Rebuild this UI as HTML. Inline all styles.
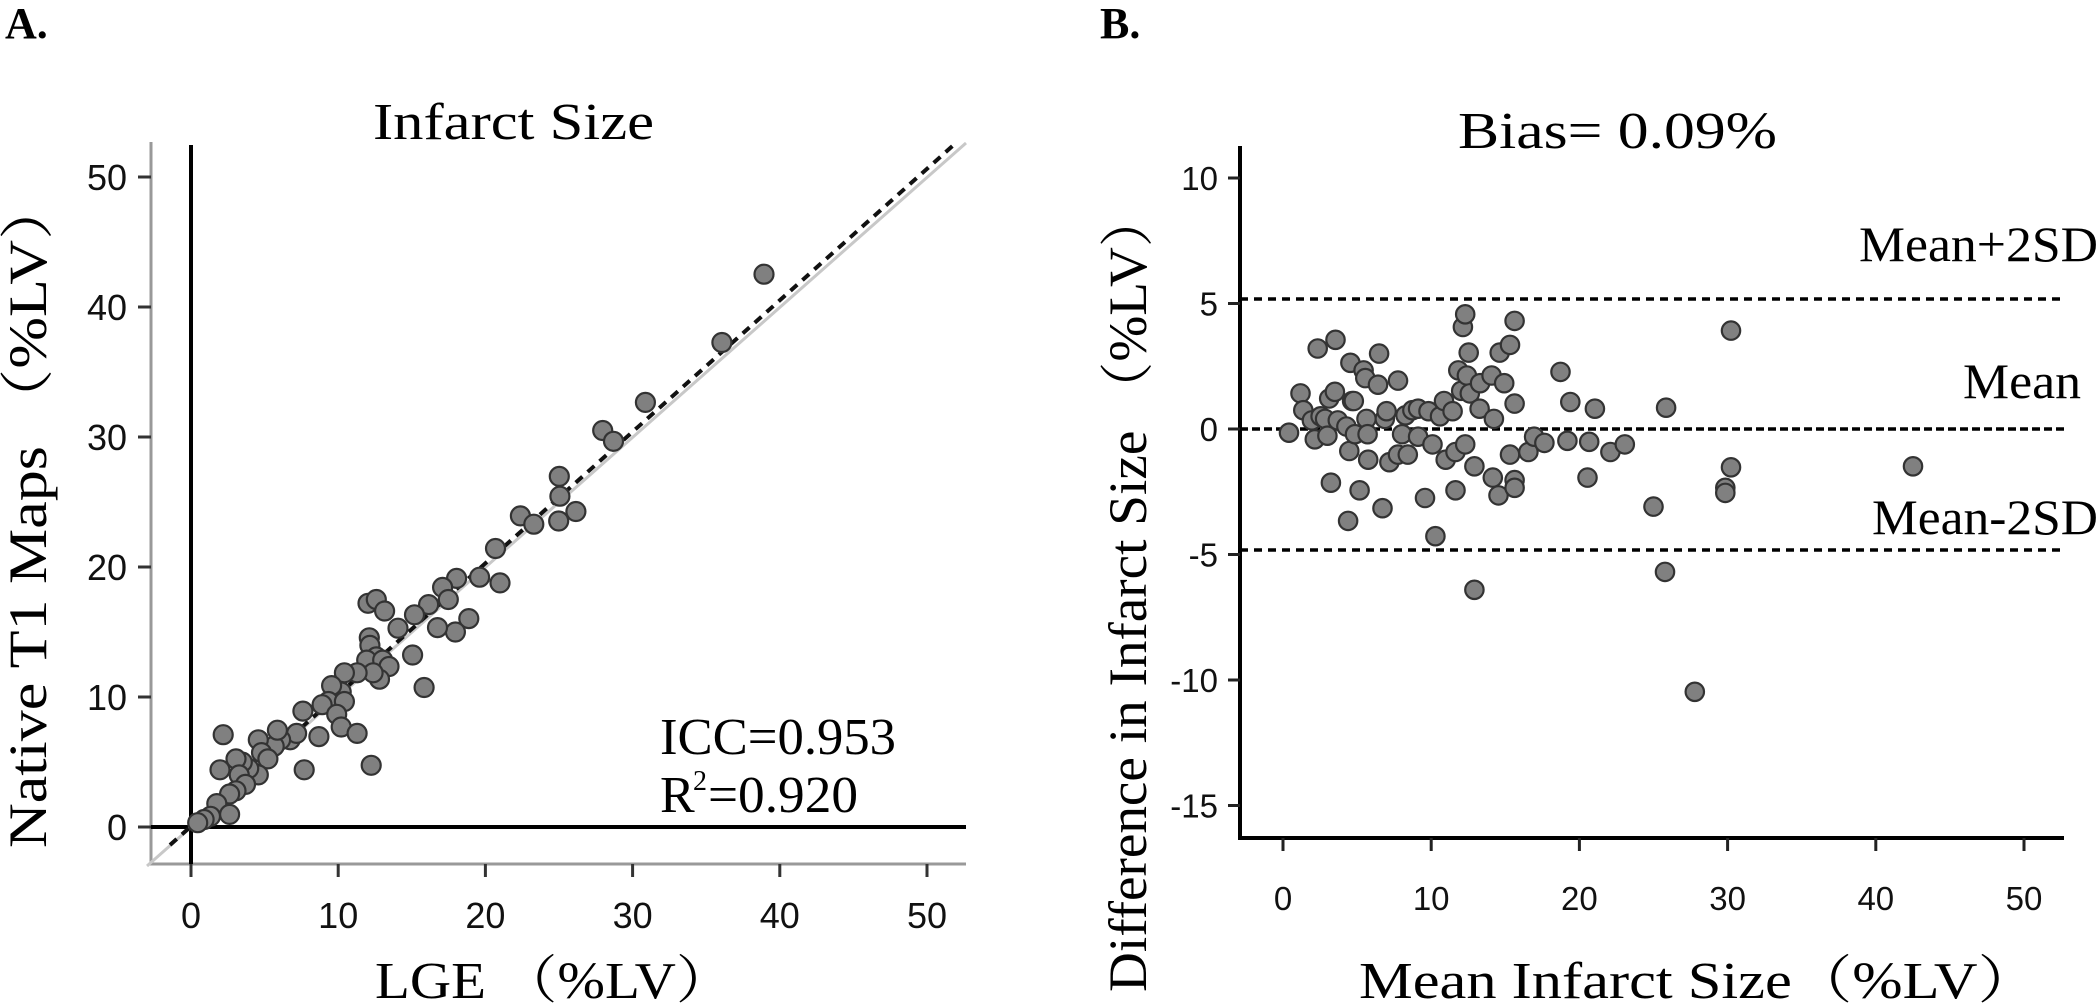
<!DOCTYPE html>
<html><head><meta charset="utf-8"><style>
html,body{margin:0;padding:0;background:#fff;}
svg{display:block;}
.serif{font-family:"Liberation Serif","Noto Serif CJK SC",serif;}
.sans{font-family:"Liberation Sans",sans-serif;}
</style></head><body>
<svg id="s" width="2100" height="1008" viewBox="0 0 2100 1008" xmlns="http://www.w3.org/2000/svg">
<rect width="2100" height="1008" fill="#fff"/>
<text class="serif" x="5" y="38" font-size="44" font-weight="bold">A.</text>
<text class="serif" x="1100" y="38" font-size="44" font-weight="bold">B.</text>

<!-- Panel A -->
<text class="serif" x="373" y="139" font-size="52" textLength="281" lengthAdjust="spacingAndGlyphs">Infarct Size</text>
<line x1="151" y1="142" x2="151" y2="865" stroke="#999" stroke-width="3"/>
<line x1="150" y1="864" x2="966" y2="864" stroke="#999" stroke-width="3"/>
<line x1="191" y1="145" x2="191" y2="864" stroke="#000" stroke-width="4"/>
<line x1="151" y1="827" x2="966" y2="827" stroke="#000" stroke-width="4"/>
<g id="aticks" stroke="#333" stroke-width="3"></g>
<g id="alabels" class="sans" font-size="36" fill="#111"></g>
<line x1="147" y1="866" x2="966" y2="143" stroke="#c8c8c8" stroke-width="3"/>
<line x1="170" y1="845" x2="957" y2="142" stroke="#111" stroke-width="4" stroke-dasharray="9,7"/>
<g id="apts" fill="#808080" stroke="#333" stroke-width="2.2"></g>
<text class="serif" x="660" y="754" font-size="52" textLength="236" lengthAdjust="spacingAndGlyphs">ICC=0.953</text>
<text class="serif" x="660" y="812" font-size="52">R</text>
<text class="serif" x="693" y="790" font-size="28">2</text>
<text class="serif" x="708" y="812" font-size="52" textLength="150" lengthAdjust="spacingAndGlyphs">=0.920</text>
<text class="serif" x="375" y="998" font-size="52" textLength="358" lengthAdjust="spacingAndGlyphs">LGE （%LV）</text>
<text class="serif" font-size="54" transform="translate(46,848) rotate(-90)" textLength="670" lengthAdjust="spacingAndGlyphs">Native  T1 Maps （%LV）</text>

<!-- Panel B -->
<text class="serif" x="1458" y="148" font-size="52" textLength="319" lengthAdjust="spacingAndGlyphs">Bias= 0.09%</text>
<line x1="1240" y1="146" x2="1240" y2="840" stroke="#000" stroke-width="4"/>
<line x1="1238" y1="838" x2="2064" y2="838" stroke="#000" stroke-width="4"/>
<g id="bticks" stroke="#222" stroke-width="3"></g>
<g id="blabels" class="sans" font-size="33" fill="#111"></g>
<line x1="1240" y1="299" x2="2064" y2="299" stroke="#000" stroke-width="3.5" stroke-dasharray="8,6"/>
<line x1="1240" y1="429" x2="2064" y2="429" stroke="#000" stroke-width="3.5" stroke-dasharray="8,4"/>
<line x1="1240" y1="550" x2="2064" y2="550" stroke="#000" stroke-width="3.5" stroke-dasharray="8,6"/>
<g id="bpts" fill="#808080" stroke="#333" stroke-width="2.2"></g>
<text class="serif" x="1859" y="261" font-size="50" textLength="239" lengthAdjust="spacingAndGlyphs">Mean+2SD</text>
<text class="serif" x="1963" y="398" font-size="50" textLength="118" lengthAdjust="spacingAndGlyphs">Mean</text>
<text class="serif" x="1872" y="534" font-size="50" textLength="226" lengthAdjust="spacingAndGlyphs">Mean-2SD</text>
<text class="serif" x="1359" y="998" font-size="52" textLength="679" lengthAdjust="spacingAndGlyphs">Mean Infarct Size（%LV）</text>
<text class="serif" font-size="54" transform="translate(1146,992) rotate(-90)" textLength="800" lengthAdjust="spacingAndGlyphs">Difference in Infarct Size （%LV）</text>
</svg>
<script>
var NS="http://www.w3.org/2000/svg";
function el(p,t,a,txt){var e=document.createElementNS(NS,t);for(var k in a)e.setAttribute(k,a[k]);if(txt!==undefined)e.textContent=txt;document.getElementById(p).appendChild(e);}
for(var i=0;i<=5;i++){var y=827-i*13.0*10;el("aticks","line",{x1:138,y1:y,x2:151,y2:y});el("alabels","text",{x:127,y:y+13,"text-anchor":"end"},String(i*10));
var x=191+i*147.2;el("aticks","line",{x1:x,y1:864,x2:x,y2:877});el("alabels","text",{x:x,y:928,"text-anchor":"middle"},String(i*10));}
var yv=[10,5,0,-5,-10,-15];
for(var j=0;j<yv.length;j++){var y=429-yv[j]*25.1;el("bticks","line",{x1:1228,y1:y,x2:1240,y2:y});el("blabels","text",{x:1218,y:y+12,"text-anchor":"end"},String(yv[j]));}
for(var i=0;i<=5;i++){var x=1283+i*148.2;el("bticks","line",{x1:x,y1:838,x2:x,y2:851});el("blabels","text",{x:x,y:910,"text-anchor":"middle"},String(i*10));}
var A=[[1198,430],[1132,537],[1012,631],[945,675],[962,692],[877,747],[878,778],[876,817],[903,802],[816,809],[837,822],[777,860],[784,914],[752,905],[716,907],[694,921],[703,940],[672,948],[735,970],[714,991],[686,984],[650,964],[624,985],[647,1027],[665,1078],[577,946],[590,940],[603,958],[579,1000],[580,1012],[590,1030],[575,1035],[600,1035],[610,1045],[595,1065],[585,1055],[560,1055],[540,1055],[535,1085],[520,1075],[515,1100],[505,1105],[540,1100],[528,1120],[535,1140],[560,1150],[582,1200],[475,1115],[500,1155],[477,1207],[455,1160],[465,1150],[440,1160],[430,1170],[435,1145],[405,1160],[410,1180],[420,1190],[405,1215],[390,1205],[380,1195],[370,1190],[375,1215],[385,1230],[350,1152],[345,1207],[370,1240],[360,1245],[340,1260],[330,1280],[320,1285],[360,1277],[310,1290]];
A.forEach(function(p){el("apts","circle",{cx:(p[0]/1.568).toFixed(1),cy:(p[1]/1.568).toFixed(1),r:9.5});});
var B=[[155,652],[175,575],[180,608],[195,628],[200,665],[205,487],[210,620],[218,625],[222,658],[225,585],[228,750],[236,470],[235,572],[240,628],[255,640],[260,688],[262,515],[265,590],[268,590],[270,655],[278,765],[258,825],[285,530],[288,545],[290,625],[292,655],[293,705],[312,497],[310,558],[318,800],[322,625],[325,610],[330,710],[345,550],[345,695],[352,655],[358,618],[362,695],[370,608],[380,660],[380,605],[392,780],[398,610],[405,675],[410,855],[418,620],[425,590],[428,705],[440,610],[445,765],[445,690],[450,530],[455,570],[458,445],[462,420],[462,675],[465,540],[468,495],[470,575],[478,718],[478,960],[488,555],[487,605],[508,540],[510,740],[512,625],[520,775],[522,495],[530,555],[540,480],[540,695],[548,595],[548,745],[548,760],[548,433],[572,690],[582,660],[600,672],[628,533],[640,668],[645,592],[675,740],[678,670],[688,605],[715,690],[740,675],[790,797],[810,925],[812,603],[862,1160],[915,760],[915,770],[925,720],[925,452],[1242,718]];
B.forEach(function(p){el("bpts","circle",{cx:(1200+p[0]/1.742).toFixed(1),cy:(100+p[1]/1.96).toFixed(1),r:9.2});});
</script>
</body></html>
